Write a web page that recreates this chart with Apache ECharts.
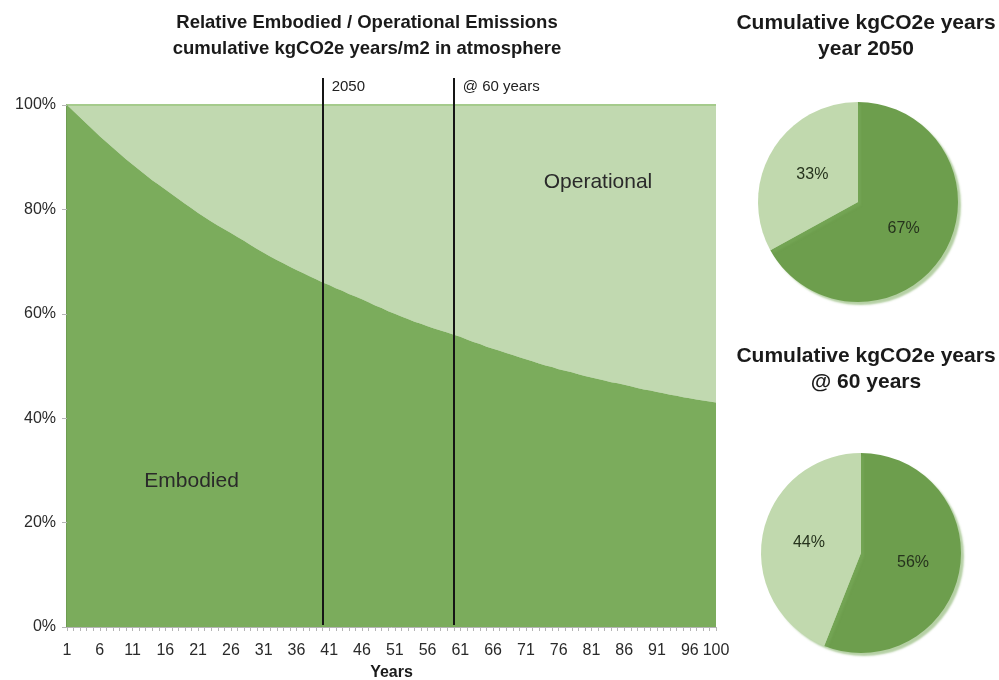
<!DOCTYPE html>
<html>
<head>
<meta charset="utf-8">
<script src="https://cdn.jsdelivr.net/npm/echarts@6/dist/echarts.min.js"></script>
<style>html,body{margin:0;padding:0;background:#fff}#c{width:999px;height:680px}</style>
</head>
<body>
<div id="c"></div>
<script>
// Years 1..100
const years = [];
for (let i = 1; i <= 100; i++) years.push(String(i));

// Embodied share (%) of cumulative kgCO2e years
const embodied = [
  100.0, 98.8, 97.6, 96.4, 95.2, 94.0, 92.9, 91.8, 90.7, 89.6,
  88.6, 87.6, 86.6, 85.6, 84.7, 83.8, 82.9, 82.0, 81.1, 80.2,
  79.3, 78.5, 77.7, 76.9, 76.2, 75.5, 74.7, 74.0, 73.2, 72.4,
  71.7, 71.0, 70.3, 69.7, 69.0, 68.4, 67.8, 67.2, 66.6, 66.0,
  65.5, 64.9, 64.4, 63.8, 63.3, 62.8, 62.2, 61.6, 61.1, 60.5,
  60.0, 59.5, 59.0, 58.5, 58.1, 57.6, 57.2, 56.8, 56.4, 56.0,
  55.6, 55.1, 54.6, 54.2, 53.7, 53.3, 52.9, 52.5, 52.1, 51.7,
  51.3, 50.9, 50.5, 50.1, 49.8, 49.4, 49.1, 48.8, 48.4, 48.1,
  47.8, 47.5, 47.2, 46.9, 46.7, 46.4, 46.1, 45.8, 45.5, 45.3,
  45.0, 44.8, 44.5, 44.3, 44.0, 43.8, 43.6, 43.4, 43.2, 43.0
];
// Operational share is the remainder to 100%
const operational = embodied.map(v => +(100 - v).toFixed(1));

const markerYears = [{ year: '40', label: '2050' }, { year: '60', label: '@ 60 years' }];
const areaNotes = [
  { name: 'Operational', year: '82', value: 85.3 },
  { name: 'Embodied', year: '20', value: 28.0 }
];

const pie2050 = [{ name: 'Embodied', value: 67 }, { name: 'Operational', value: 33 }];
const pie60 = [{ name: 'Embodied', value: 56 }, { name: 'Operational', value: 44 }];

const FONT = '"Liberation Sans", Arial, Helvetica, sans-serif';
const DARK = '#7bac5c';
const LIGHT = '#c1d9b0';
const PIE_DARK = '#6d9e4d';
const PIE_LIGHT = '#c1d9ae';

const chart = echarts.init(document.getElementById('c'), null, { renderer: 'canvas' });

const pieSeries = (data, center) => ({
  type: 'pie',
  center: center,
  radius: [0, 100],
  startAngle: 90,
  clockwise: true,
  silent: true,
  data: data,
  color: [PIE_DARK, PIE_LIGHT],
  itemStyle: { borderWidth: 0, shadowBlur: 2, shadowOffsetX: 3, shadowOffsetY: 3, shadowColor: 'rgba(120,170,90,0.55)' },
  label: { show: true, position: 'inside', formatter: '{d}%', color: '#26331d', fontSize: 16, fontFamily: FONT },
  labelLine: { show: false }
});

const titleStyle = (size, lh) => ({ fontFamily: FONT, fontSize: size, fontWeight: 'bold', color: '#1a1a1a', lineHeight: lh });

chart.setOption({
  animation: false,
  backgroundColor: '#ffffff',
  title: [
    { text: 'Relative Embodied / Operational Emissions\ncumulative kgCO2e years/m2 in atmosphere',
      left: 362, top: 5, textAlign: 'center', textStyle: titleStyle(18.5, 26) },
    { text: 'Cumulative kgCO2e years\nyear 2050',
      left: 861, top: 5, textAlign: 'center', textStyle: titleStyle(21, 26) },
    { text: 'Cumulative kgCO2e years\n@ 60 years',
      left: 861, top: 338, textAlign: 'center', textStyle: titleStyle(21, 26) }
  ],
  grid: [
    { left: 67, right: 283, top: 105, bottom: 53, containLabel: false, outerBoundsMode: 'none' },
    { left: 67, right: 283, top: 78, bottom: 55, containLabel: false, outerBoundsMode: 'none' }
  ],
  xAxis: [
    { type: 'category', gridIndex: 0, data: years, boundaryGap: false,
      name: 'Years', nameLocation: 'middle', nameGap: 38,
      nameTextStyle: { fontFamily: FONT, fontSize: 16, fontWeight: 'bold', color: '#1a1a1a' },
      axisLine: { show: true, lineStyle: { color: '#b5b5b5', width: 1 } },
      axisTick: { show: true, interval: 0, length: 4, lineStyle: { color: '#b5b5b5' } },
      axisLabel: { interval: (i) => i % 5 === 0 || i === 99, color: '#2a2a2a', fontSize: 16, fontFamily: FONT, margin: 16 },
      splitLine: { show: false } },
    { type: 'category', gridIndex: 1, data: years, boundaryGap: false, show: false }
  ],
  yAxis: [
    { type: 'value', gridIndex: 0, min: 0, max: 100, interval: 20,
      axisLine: { show: true, lineStyle: { color: '#6e9c52', width: 2 } },
      axisTick: { show: true, length: 5, lineStyle: { color: '#b5b5b5' } },
      axisLabel: { formatter: '{value}%', color: '#2a2a2a', fontSize: 16, fontFamily: FONT, margin: 11 },
      splitLine: { show: false } },
    { type: 'value', gridIndex: 1, min: 0, max: 1, show: false }
  ],
  series: [
    { name: 'Embodied', type: 'line', xAxisIndex: 0, yAxisIndex: 0, stack: 'total', data: embodied,
      symbol: 'none', smooth: false, silent: true,
      lineStyle: { width: 0 }, areaStyle: { color: DARK, opacity: 1 }, z: 2,
      markPoint: {
        symbol: 'circle', symbolSize: 1, silent: true,
        itemStyle: { color: 'rgba(0,0,0,0)' },
        data: areaNotes.map(n => ({ name: n.name, coord: [n.year, n.value] })),
        label: { show: true, formatter: '{b}', color: '#2a2a2a', fontSize: 21, fontFamily: FONT, position: 'inside' }
      } },
    { name: 'Operational', type: 'line', xAxisIndex: 0, yAxisIndex: 0, stack: 'total', data: operational,
      symbol: 'none', smooth: false, silent: true,
      lineStyle: { width: 2, color: '#a5cb8c' }, areaStyle: { color: LIGHT, opacity: 1 }, z: 1 },
    { name: 'markers', type: 'line', xAxisIndex: 1, yAxisIndex: 1, data: [], silent: true,
      markLine: {
        symbol: 'none', silent: true,
        lineStyle: { color: '#151515', width: 2, type: 'solid' },
        data: markerYears.map(m => ({ xAxis: m.year, label: {
          show: true, formatter: m.label, position: 'end', distance: 0,
          align: 'left', verticalAlign: 'top', padding: [1, 0, 0, 9],
          color: '#222', fontSize: 15, fontFamily: FONT } }))
      } },
    pieSeries(pie2050, [858, 202]),
    pieSeries(pie60, [861, 553])
  ]
});
</script>
</body>
</html>
